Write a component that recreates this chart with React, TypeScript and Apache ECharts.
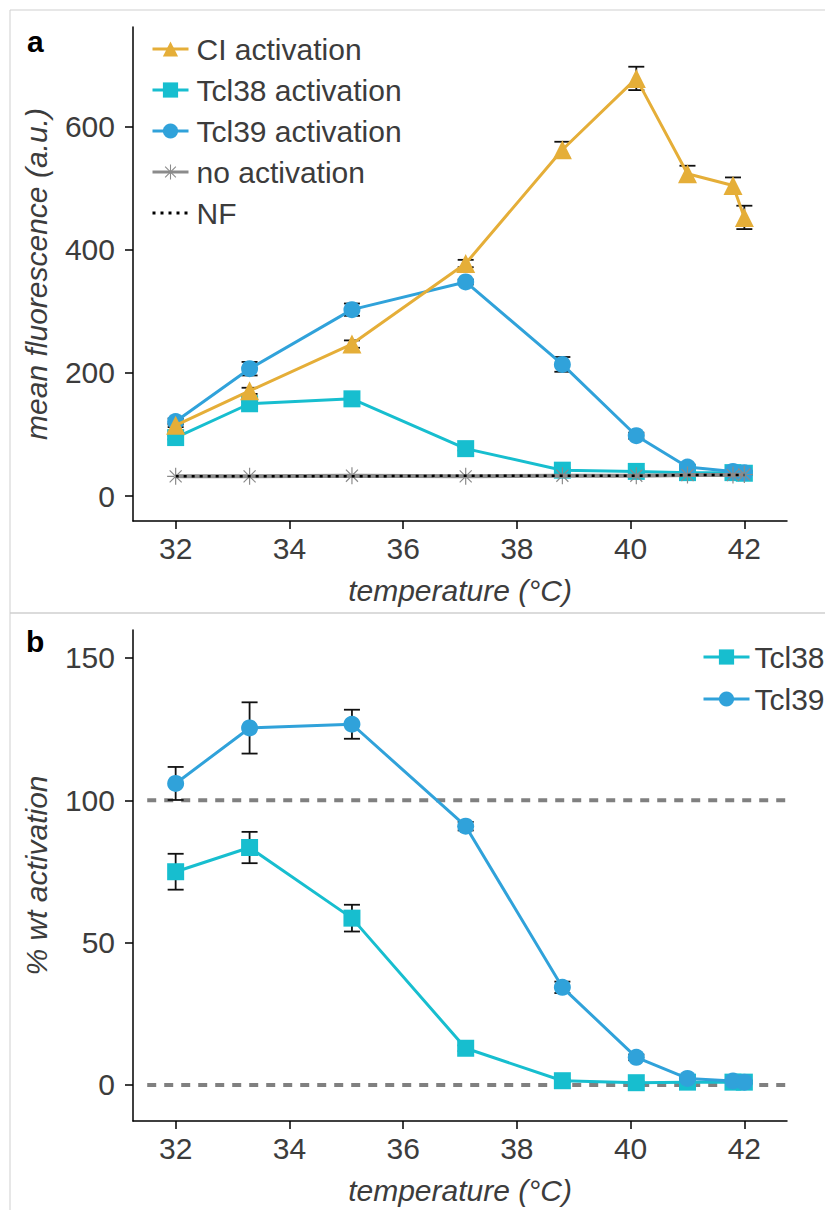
import React, { useEffect, useRef } from "react";
import * as echarts from "echarts";

// temperatures (°C)
const temps = [32, 33.3, 35.1, 37.1, 38.8, 40.1, 41, 41.8, 42];
const xTicks = [32, 34, 36, 38, 40, 42];

// panel a: mean fluorescence (a.u.)
const ciAct = [115, 171, 247, 378, 563, 679, 524, 505, 453];
const ciActErr = [3, 5, 6, 6, 13, 19, 13, 13, 19];
const tcl38Act = [95, 150, 158, 77, 42, 40, 38, 38, 37];
const tcl38ActErr = [3, 3, 3, 3, 3, 3, 3, 3, 3];
const tcl39Act = [121, 207, 303, 348, 214, 98, 47, 40, 38];
const tcl39ActErr = [5, 11, 10, 4, 12, 5, 4, 3, 3];
const noAct = [32, 32, 33, 32, 33, 33, 34, 34, 35];
const nfLevel = [32, 32, 32, 33, 33, 33, 34, 34, 34];
const yTicksA = [0, 200, 400, 600];

// panel b: % wt activation
const tcl38Wt = [74.9, 83.4, 58.6, 12.9, 1.5, 0.8, 1, 1, 1];
const tcl38WtErr = [6.3, 5.5, 4.7, 1, 0.5, 0.5, 0.5, 0.5, 0.5];
const tcl39Wt = [105.9, 125.4, 126.7, 90.9, 34.3, 9.7, 2.3, 1.4, 1];
const tcl39WtErr = [5.8, 9, 5.1, 1.5, 2, 1, 0.5, 0.5, 0.5];
const refLines = [100, 0];
const yTicksB = [0, 50, 100, 150];

const FONT = "'Liberation Sans', Arial, Helvetica, sans-serif";
const TXT = "#3c3c3c";
const C_CI = "#e5ae38";
const C_38 = "#17becf";
const C_39 = "#30a2da";
const C_NO = "#8b8b8b";

const STAR =
  "path://M9.3 0L10.7 0L10.7 20L9.3 20Z M0 9.3L20 9.3L20 10.7L0 10.7Z M2.43 3.43L16.57 17.57L17.57 16.57L3.43 2.43Z M3.43 17.57L17.57 3.43L16.57 2.43L2.43 16.57Z";

const pairs = (ys: number[]) => temps.map((t, i) => [t, ys[i]]);
const triples = (ys: number[], es: number[]) => temps.map((t, i) => [t, ys[i], es[i]]);

const errRender = (params: any, api: any) => {
  const x = api.value(0);
  const y = api.value(1);
  const e = api.value(2);
  const top = api.coord([x, y + e]);
  const bot = api.coord([x, y - e]);
  const w = 8;
  const style = { stroke: "#111", lineWidth: 1.8 };
  return {
    type: "group",
    children: [
      { type: "line", shape: { x1: top[0], y1: top[1], x2: bot[0], y2: bot[1] }, style },
      { type: "line", shape: { x1: top[0] - w, y1: top[1], x2: top[0] + w, y2: top[1] }, style },
      { type: "line", shape: { x1: bot[0] - w, y1: bot[1], x2: bot[0] + w, y2: bot[1] }, style },
    ],
  };
};

const errSeries = (name: string, ys: number[], es: number[], idx: number) => ({
  name,
  type: "custom",
  xAxisIndex: idx,
  yAxisIndex: idx,
  renderItem: errRender,
  encode: { x: 0, y: 1 },
  data: triples(ys, es),
  z: 1,
  silent: true,
});

const lineSeries = (
  name: string,
  ys: number[],
  color: string,
  symbol: string,
  size: number,
  idx: number,
  z: number,
  width = 3
) => ({
  name,
  type: "line",
  xAxisIndex: idx,
  yAxisIndex: idx,
  data: pairs(ys),
  symbol,
  symbolSize: size,
  showSymbol: true,
  itemStyle: { color },
  lineStyle: { color, width },
  z,
  silent: true,
});

const xAxis = (idx: number) => ({
  type: "value",
  gridIndex: idx,
  min: 31.25,
  max: 42.75,
  name: "temperature (°C)",
  nameLocation: "middle",
  nameGap: 54,
  nameTextStyle: { fontSize: 30, fontStyle: "italic", color: TXT, fontFamily: FONT },
  axisLine: { show: true, onZero: false, lineStyle: { color: "#000", width: 1.5 } },
  axisTick: { show: true, length: 8, lineStyle: { color: "#000", width: 1.5 }, customValues: xTicks },
  axisLabel: { fontSize: 30, color: TXT, margin: 12, fontFamily: FONT, customValues: xTicks },
  splitLine: { show: false },
});

const yAxis = (idx: number, min: number, max: number, ticks: number[], name: string) => ({
  type: "value",
  gridIndex: idx,
  min,
  max,
  name,
  nameLocation: "middle",
  nameGap: 82,
  nameTextStyle: { fontSize: 30, fontStyle: "italic", color: TXT, fontFamily: FONT },
  axisLine: { show: true, onZero: false, lineStyle: { color: "#000", width: 1.5 } },
  axisTick: { show: true, length: 8, lineStyle: { color: "#000", width: 1.5 }, customValues: ticks },
  axisLabel: { fontSize: 30, color: TXT, margin: 18, fontFamily: FONT, customValues: ticks },
  splitLine: { show: false },
});

export default function App() {
  const ref = useRef<HTMLDivElement>(null);
  useEffect(() => {
    if (!ref.current) return;
    const chart = echarts.init(ref.current, undefined, { renderer: "svg" });
    const option: any = {
      animation: false,
      backgroundColor: "#fff",
      textStyle: { fontFamily: FONT },
      grid: [
        { left: 133, top: 27, width: 654, height: 494 },
        { left: 133, top: 630, width: 654, height: 491 },
      ],
      xAxis: [xAxis(0), xAxis(1)],
      yAxis: [
        yAxis(0, -40.65, 762.6, yTicksA, "mean fluorescence (a.u.)"),
        yAxis(1, -12.65, 159.8, yTicksB, "% wt activation"),
      ],
      legend: [
        {
          data: ["CI activation", "Tcl38 activation", "Tcl39 activation", "no activation", "NF"],
          orient: "vertical",
          left: 146,
          top: 29,
          itemWidth: 36,
          itemHeight: 19,
          itemGap: 11,
          selectedMode: false,
          lineStyle: { width: 3 },
          textStyle: { fontSize: 30, color: TXT, fontFamily: FONT, padding: [0, 0, 0, 3] },
        },
        {
          data: ["Tcl38", "Tcl39"],
          orient: "vertical",
          left: 697,
          top: 637,
          itemWidth: 46,
          itemHeight: 19,
          itemGap: 12,
          selectedMode: false,
          lineStyle: { width: 3 },
          textStyle: { fontSize: 30, color: TXT, fontFamily: FONT },
        },
      ],
      graphic: [
        { type: "rect", shape: { x: 10, y: 10, width: 830, height: 603 }, style: { fill: "none", stroke: "#cfcfcf", lineWidth: 1 }, silent: true },
        { type: "rect", shape: { x: 10, y: 613, width: 830, height: 620 }, style: { fill: "none", stroke: "#cfcfcf", lineWidth: 1 }, silent: true },
        { type: "text", left: 27, top: 26, style: { text: "a", fontSize: 30, fontWeight: "bold", fill: "#000", fontFamily: FONT } },
        { type: "text", left: 26, top: 626, style: { text: "b", fontSize: 30, fontWeight: "bold", fill: "#000", fontFamily: FONT } },
      ],
      series: [
        errSeries("errCI", ciAct, ciActErr, 0),
        errSeries("err38a", tcl38Act, tcl38ActErr, 0),
        errSeries("err39a", tcl39Act, tcl39ActErr, 0),
        lineSeries("Tcl38 activation", tcl38Act, C_38, "rect", 17, 0, 2),
        lineSeries("Tcl39 activation", tcl39Act, C_39, "circle", 17, 0, 3),
        lineSeries("CI activation", ciAct, C_CI, "triangle", 19, 0, 4),
        lineSeries("no activation", noAct, C_NO, STAR, 17, 0, 5, 4),
        {
          name: "NF",
          type: "line",
          xAxisIndex: 0,
          yAxisIndex: 0,
          data: pairs(nfLevel),
          symbol: "none",
          itemStyle: { color: "rgba(0,0,0,0)" },
          lineStyle: { color: "#000", width: 2.5, type: [3, 5] },
          z: 6,
          silent: true,
        },
        ...refLines.map((v, k) => ({
          name: "ref" + k,
          type: "line",
          xAxisIndex: 1,
          yAxisIndex: 1,
          data: [
            [31.5, v],
            [42.75, v],
          ],
          symbol: "none",
          lineStyle: { color: "#808080", width: 4, type: [9, 8] },
          z: 0,
          silent: true,
        })),
        errSeries("err38b", tcl38Wt, tcl38WtErr, 1),
        errSeries("err39b", tcl39Wt, tcl39WtErr, 1),
        lineSeries("Tcl38", tcl38Wt, C_38, "rect", 17, 1, 2),
        lineSeries("Tcl39", tcl39Wt, C_39, "circle", 17, 1, 3),
      ],
    };
    chart.setOption(option);
    return () => chart.dispose();
  }, []);
  return (
    <div
      ref={ref}
      style={{ position: "absolute", left: 0, top: 0, width: 825, height: 1210, background: "#fff" }}
    />
  );
}
